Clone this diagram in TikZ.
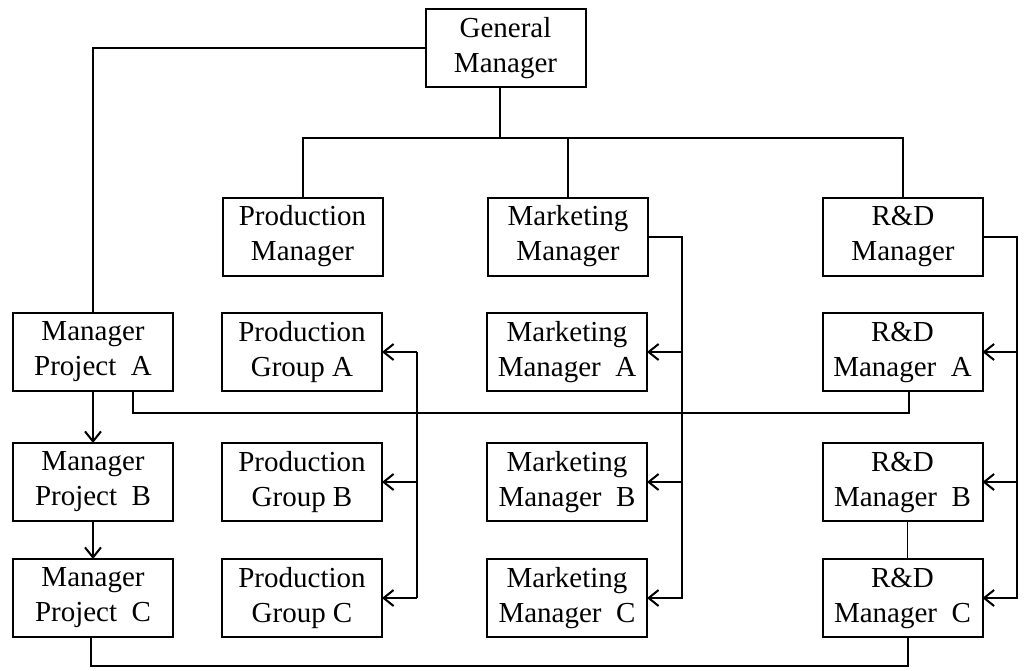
\documentclass[tikz,border=0pt]{standalone}
\usepackage{fontspec}
\setmainfont{Liberation Serif}
\usetikzlibrary{arrows.meta,calc}
\begin{document}
\begin{tikzpicture}[x=0.5pt,y=-0.5pt,
  box/.style={draw,line width=1pt,minimum width=80pt,minimum height=39pt,
    inner sep=0pt,outer sep=0pt,align=center,
    font=\fontsize{14.5}{17.5}\selectfont},
  link/.style={line width=1pt},
  fine/.style={line width=0.6pt},
  arr/.style={line width=1pt,-{Straight Barb[length=5pt,width=8pt,line width=1pt]}}]
\useasboundingbox (0,0) rectangle (1028,670);

% top level
\node[box] (gm) at (505.5,48) {General\\Manager};

% functional managers
\node[box] (pm)  at (302.5,236.5) {Production\\Manager};
\node[box] (mm)  at (568,236.5)   {Marketing\\Manager};
\node[box] (rdm) at (903,236.5)   {R\&D\\Manager};

% project managers
\node[box] (mpa) at (93,352) {Manager\\Project\ \ A};
\node[box] (mpb) at (93,482) {Manager\\Project\ \ B};
\node[box] (mpc) at (93,598) {Manager\\Project\ \ C};

% production groups
\node[box] (pga) at (302,352) {Production\\Group A};
\node[box] (pgb) at (302,482) {Production\\Group B};
\node[box] (pgc) at (302,598) {Production\\Group C};

% marketing managers
\node[box] (mma) at (567,352) {Marketing\\Manager\ \ A};
\node[box] (mmb) at (567,482) {Marketing\\Manager\ \ B};
\node[box] (mmc) at (567,598) {Marketing\\Manager\ \ C};

% R&D managers
\node[box] (rda) at (902.5,352) {R\&D\\Manager\ \ A};
\node[box] (rdb) at (902.5,482) {R\&D\\Manager\ \ B};
\node[box] (rdc) at (902.5,598) {R\&D\\Manager\ \ C};

% junction points
\coordinate (gmtap) at (500,87);
\coordinate (bus)   at (500,138);
\coordinate (pgA) at (417,352);
\coordinate (pgB) at (417,482);
\coordinate (pgC) at (417,598);
\coordinate (mkA) at (682,352);
\coordinate (mkB) at (682,482);
\coordinate (mkC) at (682,598);
\coordinate (rdA) at (1017,352);
\coordinate (rdB) at (1017,482);
\coordinate (rdC) at (1017,598);

% general manager to functional managers
\draw[link] (gmtap) -- (bus);
\draw[link] (pm.north) |- (bus) -| (rdm.north);
\draw[link] (mm.north) -- (mm.north |- bus);

% general manager to project A
\draw[link] (gm.west) -| (mpa.north);

% project chain
\draw[arr] (mpa) -- (mpb);
\draw[arr] (mpb) -- (mpc);

% project lines across the matrix
\draw[link] ($(mpa.south)+(40,0)$) -- ($(mpa.south)+(40,22)$) -| ($(rda.south)+(6,0)$);
\draw[link] ($(mpc.south)+(-2,0)$) -- ($(mpc.south)+(-2,29)$) -| ($(rdc.south)+(5,0)$);

% production groups
\draw[link] (pgA) -- (pgC);
\draw[arr] (pgA) -- (pga.east);
\draw[arr] (pgB) -- (pgb.east);
\draw[arr] (pgC) -- (pgc.east);

% marketing
\draw[arr] (mm.east) -| (mkC) -- (mmc.east);
\draw[arr] (mkA) -- (mma.east);
\draw[arr] (mkB) -- (mmb.east);

% R&D
\draw[arr] (rdm.east) -| (rdC) -- (rdc.east);
\draw[arr] (rdA) -- (rda.east);
\draw[arr] (rdB) -- (rdb.east);
\draw[fine] ($(rdb.south)+(5,0)$) -- ($(rdc.north)+(5,0)$);
\end{tikzpicture}
\end{document}
